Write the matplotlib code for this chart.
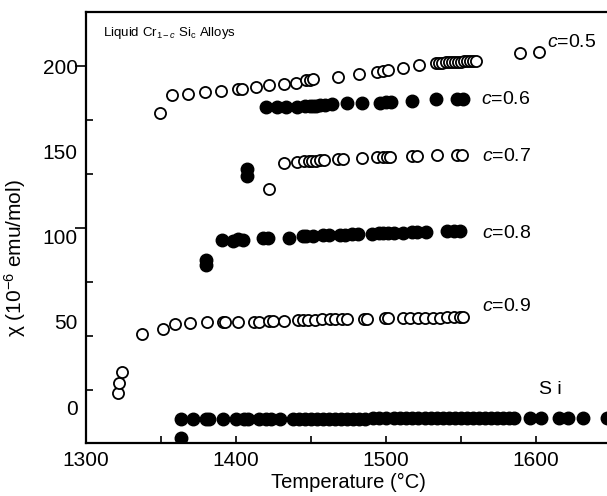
import numpy as np
import matplotlib
matplotlib.use("Agg")
import matplotlib.pyplot as plt

plt.rcParams['font.family'] = ['Liberation Sans', 'DejaVu Sans']
plt.rcParams['mathtext.fontset'] = 'custom'
plt.rcParams['mathtext.rm'] = 'Liberation Sans'
plt.rcParams['mathtext.it'] = 'Liberation Sans:italic'

# ---------------- datos ----------------
# c = 0.5 (circulos abiertos)
T05 = [1349, 1357.5, 1368, 1379.5, 1390, 1401, 1404, 1413, 1422, 1432, 1440, 1446.5, 1449, 1451.5,
       1468, 1482, 1494, 1498, 1501, 1511.5, 1522, 1533, 1535, 1537, 1540, 1542, 1544, 1546, 1548,
       1550, 1552, 1554, 1556, 1558, 1560, 1589, 1602]
X05 = [172.4, 183.0, 183.6, 184.5, 185.6, 186.5, 186.5, 187.7, 188.6, 189.4, 190.3, 191.6, 191.8, 192.1,
       193.8, 195.3, 196.2, 196.8, 197.7, 199.1, 200.3, 201.6, 201.8, 202.0, 202.1, 202.2, 202.3, 202.4, 202.5,
       202.6, 202.7, 202.8, 202.9, 203.0, 203.1, 207.4, 208.2]

# c = 0.6 (circulos llenos)
T06 = [1407.5, 1407.5, 1420, 1427, 1433, 1440.5, 1446, 1449, 1451, 1453, 1456, 1459, 1464, 1474, 1484,
       1496, 1500, 1503, 1517, 1533, 1547, 1551]
X06 = [139.6, 135.5, 176.0, 176.1, 176.1, 176.1, 176.5, 176.5, 176.5, 176.7, 177.0, 177.3, 177.7, 178.1, 178.1,
       178.5, 179.1, 179.1, 179.6, 180.5, 180.5, 180.5]

# c = 0.7 (circulos abiertos)
T07 = [1422, 1432, 1440.5, 1445, 1448.5, 1450.5, 1453, 1456, 1458.5, 1468, 1471, 1484, 1494, 1498, 1500.5,
       1502.5, 1517, 1520.5, 1534, 1547, 1550.5]
X07 = [127.7, 143.4, 143.6, 144.0, 144.2, 144.3, 144.5, 144.6, 144.8, 145.3, 145.5, 146.0, 146.4, 146.6, 146.7,
       146.8, 147.2, 147.3, 147.6, 147.9, 148.0]

# c = 0.8 (circulos llenos)
T08 = [1380, 1380, 1390.5, 1398, 1401.5, 1404.5, 1418, 1421.5, 1435.5, 1444.5, 1446.5, 1451, 1458, 1462,
       1469, 1472.5, 1477, 1481.5, 1490.5, 1495, 1498, 1501.5, 1505, 1511.5, 1517, 1520.5, 1526.5, 1540.5,
       1545, 1549.5]
X08 = [86.5, 83.3, 97.9, 97.6, 98.4, 97.9, 98.9, 98.9, 99.3, 100.3, 100.3, 100.3, 100.6, 100.9,
       100.9, 100.9, 101.2, 101.5, 101.5, 101.9, 101.9, 101.9, 101.9, 102.2, 102.5, 102.5, 102.8, 103.0,
       103.2, 103.4]

# c = 0.9 (circulos abiertos)
T09 = [1321, 1322, 1323.7, 1337, 1351, 1359.5, 1369.5, 1380.5, 1391, 1392.7, 1401.3, 1412, 1415, 1422,
       1424.7, 1432, 1441.3, 1444.7, 1448.2, 1452.7, 1457.1, 1462.7, 1466, 1470.5, 1473.8, 1485, 1487.1,
       1499.3, 1501.5, 1511.5, 1516, 1521.5, 1526, 1531.5, 1536, 1540.5, 1545, 1549.3, 1551.5]
X09 = [8.4, 13.9, 20.7, 42.6, 45.7, 48.7, 49.3, 49.6, 49.9, 49.9, 50.1, 50.1, 50.1, 50.3,
       50.3, 50.4, 51.0, 51.0, 51.3, 51.3, 51.4, 51.4, 51.6, 51.6, 51.6, 51.8, 51.8,
       52.0, 52.0, 52.2, 52.2, 52.2, 52.2, 52.4, 52.4, 52.5, 52.5, 52.6, 52.6]

# Si (circulos llenos)
TSi = [1363, 1363, 1371, 1380, 1382, 1391, 1400, 1405, 1408, 1415, 1420, 1423, 1429, 1438, 1442, 1446,
       1450, 1454, 1458, 1462, 1466, 1470, 1474, 1478, 1482, 1486, 1491, 1495, 1500, 1505, 1509, 1513,
       1517, 1521, 1526, 1530, 1534, 1538, 1542, 1546, 1550, 1554, 1558, 1562, 1566, 1570, 1574, 1578,
       1582, 1585, 1596, 1603, 1615, 1621, 1631, 1647]
XSi = [-18.4, -7.0, -7.0, -7.0, -7.0, -7.0, -7.0, -7.0, -7.0, -7.0, -7.0, -7.0, -7.0, -7.0, -6.8, -6.8,
       -6.8, -6.8, -6.8, -6.8, -6.8, -6.8, -6.8, -6.8, -6.8, -6.8, -6.6, -6.6, -6.6, -6.6, -6.6, -6.6,
       -6.6, -6.6, -6.6, -6.6, -6.6, -6.6, -6.6, -6.6, -6.6, -6.6, -6.6, -6.6, -6.6, -6.6, -6.6, -6.6,
       -6.6, -6.6, -6.6, -6.6, -6.6, -6.6, -6.6, -6.6]

etiquetas = ["$c$=0.5", "$c$=0.6", "$c$=0.7", "$c$=0.8", "$c$=0.9", "S i"]
pos_etiq = [(1607, 213.5), (1563, 180.1), (1564, 146.8), (1564, 101.9), (1564, 58.8), (1602, 10.0)]

yticks_lab = [0, 50, 100, 150, 200]
yticks_in = [168.3, 136.7, 73.3, 41.7, 10.0]
yticks_out = [200, 105]

# ---------------- grafico ----------------
fig = plt.figure(figsize=(6.07, 4.96), dpi=100)
ax = fig.add_axes([0.1417, 0.1069, 0.8649, 0.8690])

abierto = dict(ls='none', marker='o', ms=8, mfc='white', mec='black', mew=1.3)
lleno = dict(ls='none', marker='o', ms=9, mfc='black', mec='black', mew=1.0)

ax.plot(T05, X05, **abierto)
ax.plot(T06, X06, **lleno)
ax.plot(T07, X07, **abierto)
ax.plot(T08, X08, **lleno)
ax.plot(T09, X09, **abierto)
ax.plot(TSi, XSi, **lleno)

for txt, (tx, ty) in zip(etiquetas, pos_etiq):
    ax.text(tx, ty, txt, fontsize=14, ha='left', va='center')

ax.text(0.032, 0.951, r"Liquid Cr$_{\mathit{1-c}}$ Si$_{\mathrm{c}}$ Alloys", transform=ax.transAxes,
        fontsize=9.5, ha='left', va='center')

ax.set_xlim(1300, 1650)
ax.set_ylim(-21.1, 231.7)

for s in ['left', 'bottom', 'top']:
    ax.spines[s].set_linewidth(1.6)
ax.spines['right'].set_visible(False)

ax.set_xticks([1300, 1400, 1500, 1600])
ax.set_xticks([1350, 1450, 1550], minor=True)
ax.tick_params(axis='x', which='both', direction='in', length=5, width=1.2, labelsize=15, pad=6)

ax.set_yticks(yticks_lab)
ax.set_yticks(yticks_in, minor=True)
ax.tick_params(axis='y', which='major', length=0, labelsize=15, pad=6)
ax.tick_params(axis='y', which='minor', direction='in', length=5, width=1.2)

sec = ax.secondary_yaxis('left')
sec.set_yticks(yticks_out)
sec.set_yticklabels([])
sec.tick_params(direction='out', length=8, width=1.2)
sec.spines['left'].set_visible(False)

ax.set_xlabel("Temperature (°C)", fontsize=14.5, labelpad=2)
ax.set_ylabel(r"χ (10$^{-6}$ emu/mol)", fontsize=15)
ax.yaxis.set_label_coords(-0.11, 0.43)

fig.savefig("out.png", dpi=100)
